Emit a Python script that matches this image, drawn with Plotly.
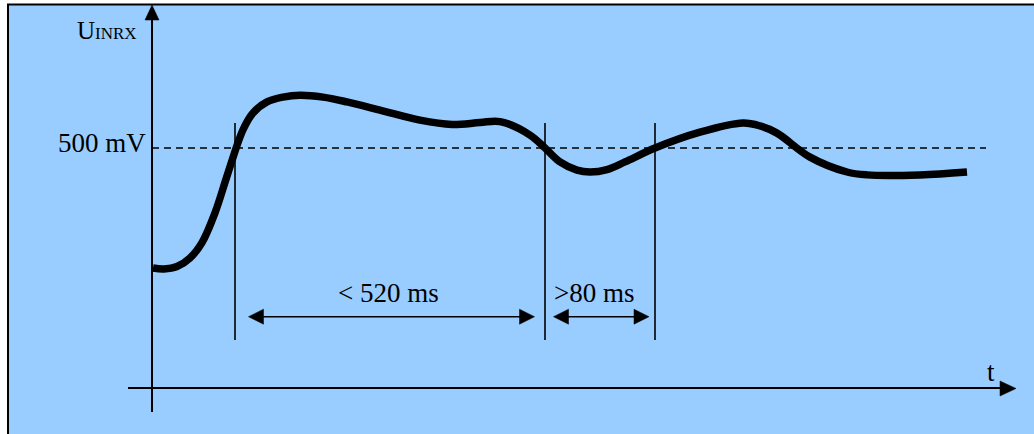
import plotly.graph_objects as go

# ---- data (schematic time axis t, voltage U in mV) ----
t_vals = [1, 12, 25, 38, 50, 63, 76, 91, 101, 115, 131, 148, 171, 195, 228, 268,
          300, 328, 348, 378, 393, 408, 425, 438, 455, 473, 503, 548, 591, 608, 625,
          658, 695, 715, 768, 815]
u_vals = [250, 248, 253, 271, 303, 365, 448, 538, 573, 596, 606, 610, 606, 596, 579, 558,
          549, 553, 555, 527, 500, 471, 454, 450, 455, 471, 500, 533, 552, 546, 531,
          481, 450, 444, 444, 450]
threshold_mv = 500
threshold_label = "500 mV"
marker_times = [83, 393, 503]
interval_labels = ["< 520 ms", ">80 ms"]
y_label_main = "U"
y_label_sub = "INRX"
x_label = "t"

# ---- layout helpers (pixel -> axis units) ----
W, H = 1034, 434
X0_PX = 152          # pixel column of t = 0
Y0_PX = 388          # pixel row of U = 0
MV_PER_PX = threshold_mv / (Y0_PX - 148)

def X(px):
    return px - X0_PX

def Y(py):
    return (Y0_PX - py) * MV_PER_PX

def tx(t):
    return t + X0_PX

FONT = "Liberation Serif"
BLACK = "#000000"
BG = "#99CCFF"

fig = go.Figure()

fig.add_trace(go.Scatter(
    x=t_vals, y=u_vals, mode="lines",
    line=dict(color=BLACK, width=7.5, shape="spline", smoothing=1.0),
    hoverinfo="skip", showlegend=False))

shapes = []
# background panel with border (top & left visible)
shapes.append(dict(type="rect", xref="x", yref="y", x0=X(8), x1=X(1045), y0=Y(4.5), y1=Y(445),
                   fillcolor=BG, line=dict(color=BLACK, width=2), layer="below"))
# y axis line + arrow head
shapes.append(dict(type="line", xref="x", yref="y", x0=X(152), x1=X(152), y0=Y(412), y1=Y(18),
                   line=dict(color=BLACK, width=2)))
shapes.append(dict(type="path", xref="x", yref="y",
                   path=f"M {X(152)},{Y(5)} L {X(145)},{Y(20)} L {X(159)},{Y(20)} Z",
                   fillcolor=BLACK, line=dict(color=BLACK, width=0.5)))
# x axis line + arrow head
shapes.append(dict(type="line", xref="x", yref="y", x0=X(128), x1=X(1002), y0=Y(388), y1=Y(388),
                   line=dict(color=BLACK, width=2)))
shapes.append(dict(type="path", xref="x", yref="y",
                   path=f"M {X(1016)},{Y(388.5)} L {X(1000)},{Y(381)} L {X(1000)},{Y(396)} Z",
                   fillcolor=BLACK, line=dict(color=BLACK, width=0.5)))
# threshold dashed line
shapes.append(dict(type="line", xref="x", yref="y", x0=0, x1=X(986), y0=threshold_mv, y1=threshold_mv,
                   line=dict(color=BLACK, width=1.5, dash="7px,5px")))
# vertical markers
for mt in marker_times:
    shapes.append(dict(type="line", xref="x", yref="y", x0=mt, x1=mt, y0=Y(123), y1=Y(340),
                       line=dict(color=BLACK, width=1.6)))

# double-headed interval arrows
ARROW_Y = 316.7
HEAD_L, HEAD_H = 15, 7.5
def double_arrow(px_left, px_right):
    out = []
    out.append(dict(type="line", xref="x", yref="y", x0=X(px_left + 5), x1=X(px_right - 5),
                    y0=Y(ARROW_Y), y1=Y(ARROW_Y), line=dict(color=BLACK, width=1.6)))
    out.append(dict(type="path", xref="x", yref="y",
                    path=(f"M {X(px_left)},{Y(ARROW_Y)} L {X(px_left + HEAD_L)},{Y(ARROW_Y - HEAD_H)} "
                          f"L {X(px_left + HEAD_L)},{Y(ARROW_Y + HEAD_H)} Z"),
                    fillcolor=BLACK, line=dict(color=BLACK, width=0.5)))
    out.append(dict(type="path", xref="x", yref="y",
                    path=(f"M {X(px_right)},{Y(ARROW_Y)} L {X(px_right - HEAD_L)},{Y(ARROW_Y - HEAD_H)} "
                          f"L {X(px_right - HEAD_L)},{Y(ARROW_Y + HEAD_H)} Z"),
                    fillcolor=BLACK, line=dict(color=BLACK, width=0.5)))
    return out

m0, m1, m2 = [tx(m) for m in marker_times]
shapes += double_arrow(m0 + 13.5, m1 - 10.5)
shapes += double_arrow(m1 + 8.5, m2 - 6)

FS = 27
def base_y(baseline_px, fs):
    return Y(baseline_px + 0.216 * fs + 1)

annotations = [
    dict(x=X((m0 + m1) / 2 - 2), y=base_y(303.3, FS), text=interval_labels[0], showarrow=False,
         xanchor="center", yanchor="bottom", font=dict(family=FONT, size=FS, color=BLACK)),
    dict(x=X(552), y=base_y(303.3, FS), text=interval_labels[1], showarrow=False,
         xanchor="left", yanchor="bottom", font=dict(family=FONT, size=FS, color=BLACK)),
    dict(x=X(148), y=base_y(152.7, FS), text=threshold_label, showarrow=False,
         xanchor="right", yanchor="bottom", font=dict(family=FONT, size=FS, color=BLACK)),
    dict(x=X(75), y=base_y(39.5, 25), text=f"{y_label_main}<span style='font-size:17px'>{y_label_sub}</span>",
         showarrow=False, xanchor="left", yanchor="bottom", font=dict(family=FONT, size=25, color=BLACK)),
    dict(x=X(985), y=base_y(382, FS), text=x_label, showarrow=False,
         xanchor="left", yanchor="bottom", font=dict(family=FONT, size=FS, color=BLACK)),
]

fig.update_layout(
    width=W, height=H,
    margin=dict(l=0, r=0, t=0, b=0, pad=0),
    paper_bgcolor="white", plot_bgcolor="white",
    xaxis=dict(range=[X(0), X(W)], visible=False, fixedrange=True),
    yaxis=dict(range=[Y(H), Y(0)], visible=False, fixedrange=True),
    shapes=shapes, annotations=annotations, showlegend=False,
)

fig.write_html("out.html",
               config={"displayModeBar": False},
               post_script="document.body.style.margin='0';document.body.style.overflow='hidden';")
